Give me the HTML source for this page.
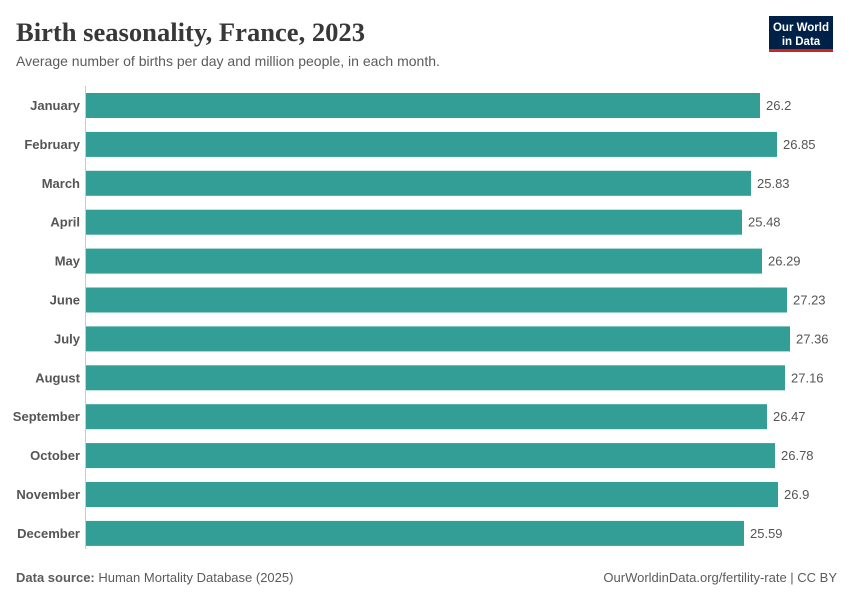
<!DOCTYPE html>
<html><head><meta charset="utf-8"><style>
body{margin:0;background:#fff;width:850px;height:600px;overflow:hidden;font-family:"Liberation Sans",sans-serif}
</style></head><body>
<svg width="850" height="600" xmlns="http://www.w3.org/2000/svg" font-family="Liberation Sans, sans-serif">
<text x="16" y="41" font-family="Liberation Serif, serif" font-size="26" font-weight="bold" fill="#383838" textLength="349" lengthAdjust="spacingAndGlyphs">Birth seasonality, France, 2023</text>
<text x="16" y="66" font-size="14" fill="#5b5b5b">Average number of births per day and million people, in each month.</text>
<rect x="769" y="16" width="64" height="36" fill="#002147"/>
<rect x="769" y="49" width="64" height="3" fill="#ce261e"/>
<text x="801" y="31" font-size="11.5" font-weight="bold" fill="#fff" text-anchor="middle">Our World</text>
<text x="801" y="45" font-size="11.5" font-weight="bold" fill="#fff" text-anchor="middle">in Data</text>
<line x1="85.5" y1="86" x2="85.5" y2="549" stroke="#ccc" stroke-width="1"/>
<g font-size="13">
<rect x="86" y="93" width="674" height="25" fill="#339e96"/><text x="80" y="110" text-anchor="end" font-weight="bold" fill="#555">January</text><text x="766" y="110" fill="#555">26.2</text>
<rect x="86" y="131.9" width="691" height="25" fill="#339e96"/><text x="80" y="148.9" text-anchor="end" font-weight="bold" fill="#555">February</text><text x="783" y="148.9" fill="#555">26.85</text>
<rect x="86" y="170.8" width="665" height="25" fill="#339e96"/><text x="80" y="187.8" text-anchor="end" font-weight="bold" fill="#555">March</text><text x="757" y="187.8" fill="#555">25.83</text>
<rect x="86" y="209.7" width="656" height="25" fill="#339e96"/><text x="80" y="226.7" text-anchor="end" font-weight="bold" fill="#555">April</text><text x="748" y="226.7" fill="#555">25.48</text>
<rect x="86" y="248.6" width="676" height="25" fill="#339e96"/><text x="80" y="265.6" text-anchor="end" font-weight="bold" fill="#555">May</text><text x="768" y="265.6" fill="#555">26.29</text>
<rect x="86" y="287.5" width="701" height="25" fill="#339e96"/><text x="80" y="304.5" text-anchor="end" font-weight="bold" fill="#555">June</text><text x="793" y="304.5" fill="#555">27.23</text>
<rect x="86" y="326.4" width="704" height="25" fill="#339e96"/><text x="80" y="343.4" text-anchor="end" font-weight="bold" fill="#555">July</text><text x="796" y="343.4" fill="#555">27.36</text>
<rect x="86" y="365.3" width="699" height="25" fill="#339e96"/><text x="80" y="382.3" text-anchor="end" font-weight="bold" fill="#555">August</text><text x="791" y="382.3" fill="#555">27.16</text>
<rect x="86" y="404.2" width="681" height="25" fill="#339e96"/><text x="80" y="421.2" text-anchor="end" font-weight="bold" fill="#555">September</text><text x="773" y="421.2" fill="#555">26.47</text>
<rect x="86" y="443.1" width="689" height="25" fill="#339e96"/><text x="80" y="460.1" text-anchor="end" font-weight="bold" fill="#555">October</text><text x="781" y="460.1" fill="#555">26.78</text>
<rect x="86" y="482" width="692" height="25" fill="#339e96"/><text x="80" y="499" text-anchor="end" font-weight="bold" fill="#555">November</text><text x="784" y="499" fill="#555">26.9</text>
<rect x="86" y="520.9" width="658" height="25" fill="#339e96"/><text x="80" y="537.9" text-anchor="end" font-weight="bold" fill="#555">December</text><text x="750" y="537.9" fill="#555">25.59</text>
</g>
<text x="16" y="582" font-size="13" fill="#5b5b5b"><tspan font-weight="bold">Data source:</tspan> Human Mortality Database (2025)</text>
<text x="837" y="582" font-size="13" fill="#5b5b5b" text-anchor="end">OurWorldinData.org/fertility-rate | CC BY</text>
</svg>
</body></html>
